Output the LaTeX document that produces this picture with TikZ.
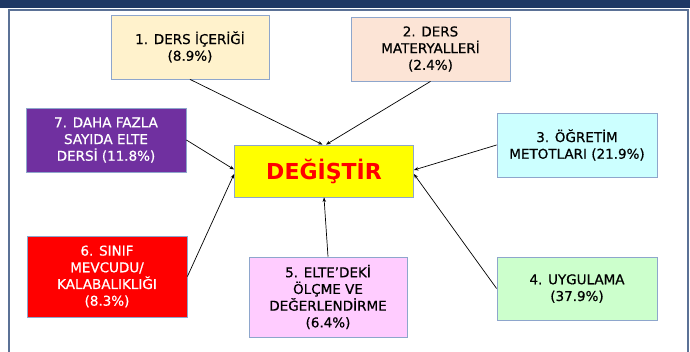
\documentclass[tikz,border=0pt]{standalone}
\usepackage{fontspec}
\setmainfont{DejaVu Sans}
\newfontfamily\medfont{DejaVu Sans}[FakeBold=0.6]
\usetikzlibrary{arrows.meta,calc}
\definecolor{navy}{HTML}{1F3864}
\definecolor{framec}{HTML}{5B7196}
\definecolor{boxedge}{HTML}{8EA6CC}
\definecolor{cyellow}{HTML}{FFF2CC}
\definecolor{cpeach}{HTML}{FCE4D6}
\definecolor{cpurple}{HTML}{7030A0}
\definecolor{ccyan}{HTML}{CCFFFF}
\definecolor{cred}{HTML}{FF0000}
\definecolor{cpink}{HTML}{FFCCFF}
\definecolor{cgreen}{HTML}{CCFFCC}
\definecolor{cyel}{HTML}{FFFF00}
\begin{document}
\begin{tikzpicture}[x=1pt,y=-1pt,
  item/.style={draw=boxedge,line width=0.8pt,rectangle,align=center,inner sep=2pt,
    font=\medfont\fontsize{13.5}{16.7}\selectfont,text=black},
  conn/.style={black,line width=0.7pt,-{Stealth[length=4.5pt,width=3.5pt]}}]
\useasboundingbox (0,0) rectangle (690,352);
\fill[white] (0,0) rectangle (690,352);
% header bar and frame
\fill[navy] (0,0) rectangle (690,8);
\draw[framec,line width=1.2pt] (9,352) -- (9,10) -- (688,10) -- (688,352);
% central node
\node[item,fill=cyel,minimum width=179pt,minimum height=52pt,
  font=\rmfamily\fontsize{22}{26}\selectfont\bfseries,text=cred] (c) at (324,171) {DEĞİŞTİR};
% satellites
\node[item,fill=cyellow,minimum width=158pt,minimum height=64pt] (b1) at (190,47)
  {1. DERS İÇERİĞİ\\(8.9\%)};
\node[item,fill=cpeach,minimum width=159pt,minimum height=64pt] (b2) at (430.5,49)
  {2. DERS\\MATERYALLERİ\\(2.4\%)};
\node[item,fill=ccyan,minimum width=160pt,minimum height=64pt] (b3) at (577,145)
  {3. ÖĞRETİM\\METOTLARI (21.9\%)};
\node[item,fill=cgreen,minimum width=160pt,minimum height=63pt] (b4) at (577,288.5)
  {4. UYGULAMA\\(37.9\%)};
\node[item,fill=cpink,minimum width=158pt,minimum height=80pt] (b5) at (328,297)
  {5. ELTE’DEKİ\\ÖLÇME VE\\DEĞERLENDİRME\\(6.4\%)};
\node[item,fill=cred,text=white,minimum width=160pt,minimum height=81pt] (b6) at (107,276.5)
  {6. SINIF\\MEVCUDU/\\KALABALIKLIĞI\\(8.3\%)};
\node[item,fill=cpurple,text=white,minimum width=160pt,minimum height=64pt] (b7) at (106,140)
  {7. DAHA FAZLA\\SAYIDA ELTE\\DERSİ (11.8\%)};
% connectors
\draw[conn] (b1.south) -- ($(c.north)+(-1.5,0)$);
\draw[conn] (b2.south) -- ($(c.north)+(2,0)$);
\draw[conn] (b7.east) -- ($(c.west)+(0,-1.5)$);
\draw[conn] (b6.east) -- ($(c.west)+(0,3)$);
\draw[conn] (b3.west) -- ($(c.east)+(0,-1)$);
\draw[conn] (b4.west) -- ($(c.east)+(0,3)$);
\draw[conn] (b5.north) -- (c.south);
\end{tikzpicture}
\end{document}
